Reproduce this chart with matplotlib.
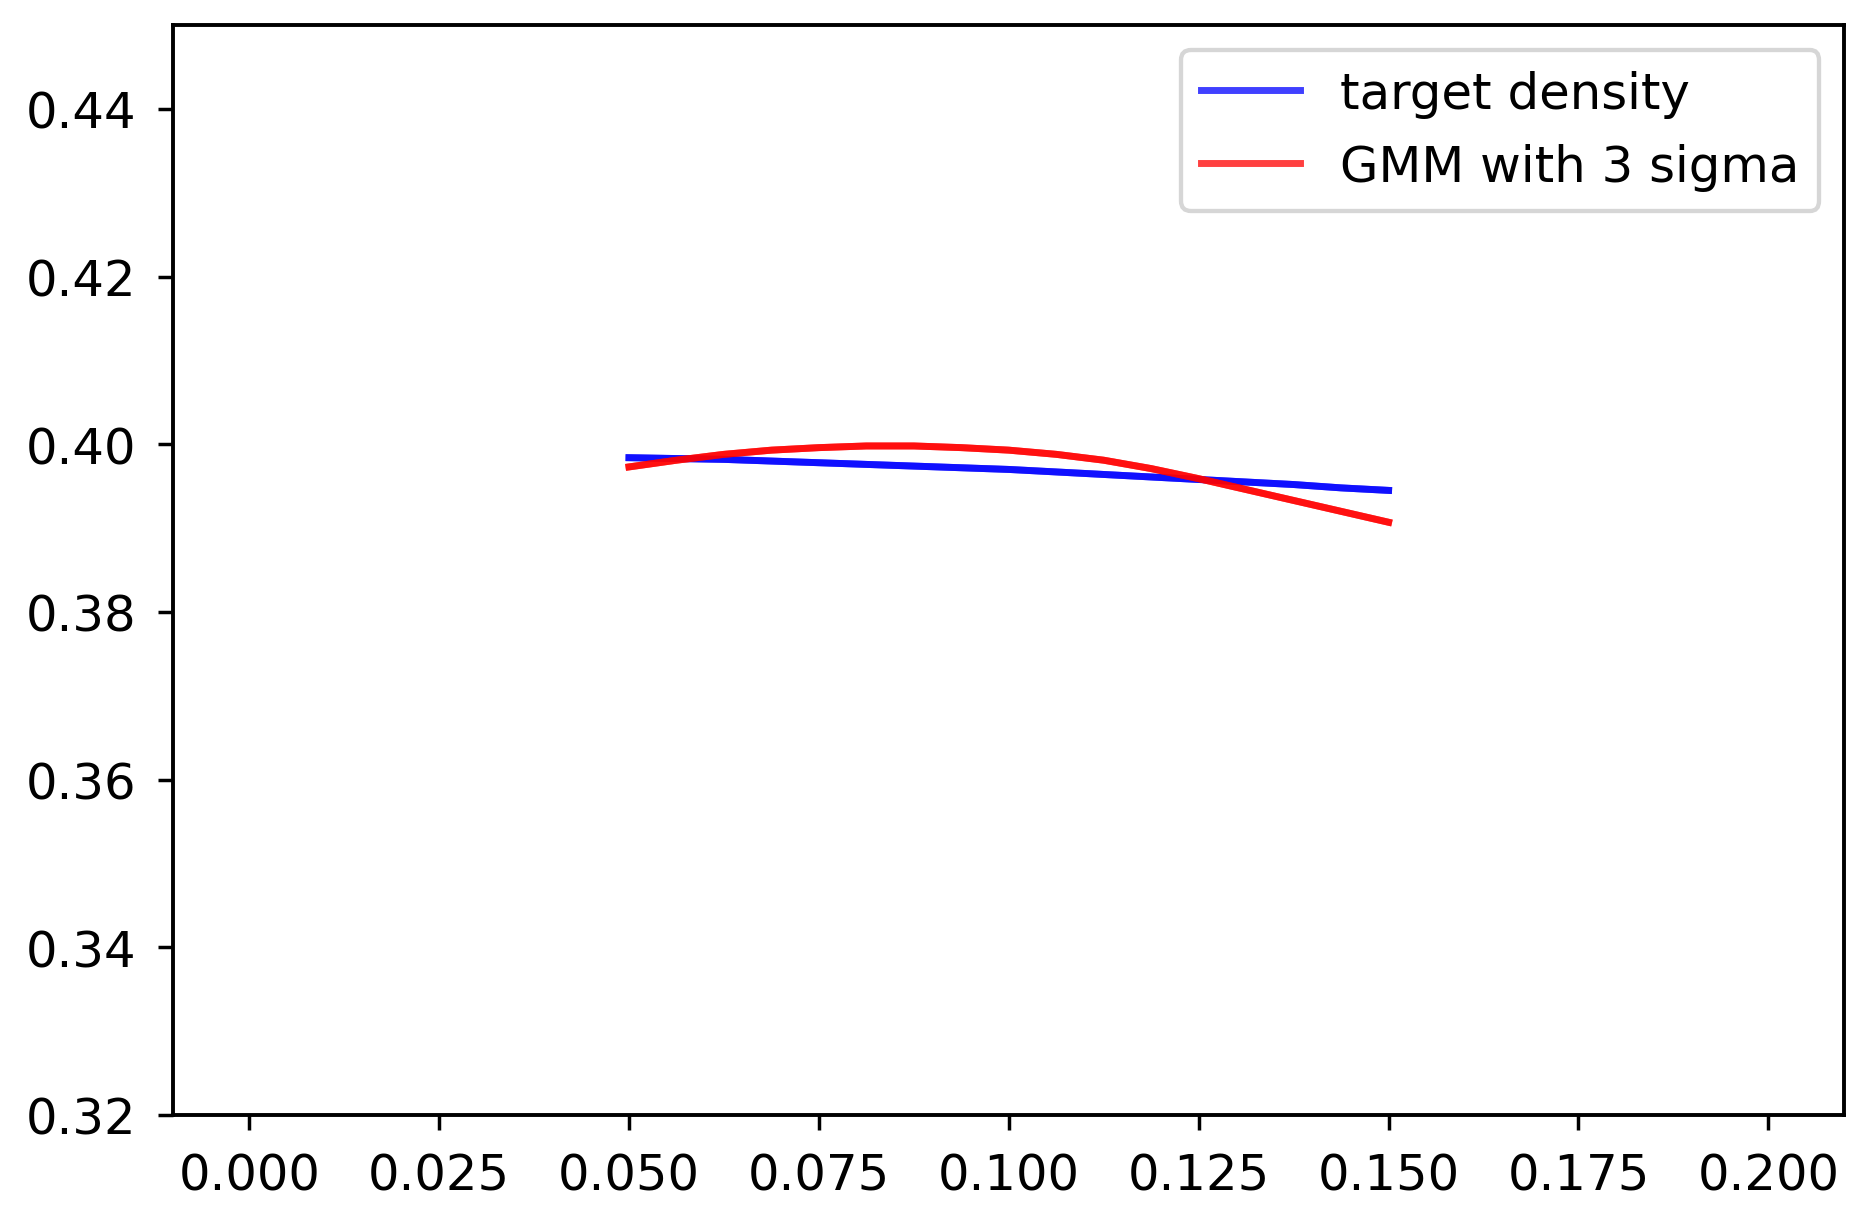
import matplotlib
matplotlib.use('Agg')
import matplotlib.pyplot as plt
from matplotlib.ticker import FormatStrFormatter

# values
x = [0.05, 0.05625, 0.0625, 0.06875, 0.075, 0.08125, 0.0875, 0.09375, 0.1,
     0.10625, 0.1125, 0.11875, 0.125, 0.13125, 0.1375, 0.14375, 0.15]
target = [0.3984, 0.3983, 0.3982, 0.3980, 0.3978, 0.3976, 0.3974, 0.3972, 0.3970,
          0.3967, 0.3964, 0.3961, 0.3958, 0.3955, 0.3952, 0.3948, 0.3945]
gmm = [0.3973, 0.3981, 0.3988, 0.3993, 0.3996, 0.3998, 0.3998, 0.3996, 0.3993,
       0.3988, 0.3981, 0.3971, 0.3959, 0.3946, 0.3933, 0.3920, 0.3907]

plt.rcParams['font.size'] = 11.5

fig, ax = plt.subplots(figsize=(6.0, 3.897), dpi=311.5)
fig.subplots_adjust(left=0.0927, right=0.9868, bottom=0.0807, top=0.9786)

# each curve drawn twice with alpha, like the original loop did
ax.plot(x, target, color='b', alpha=0.75, lw=1.6, label='target density')
ax.plot(x, target, color='b', alpha=0.75, lw=1.6)
ax.plot(x, gmm, color='r', alpha=0.75, lw=1.6, label='GMM with 3 sigma')
ax.plot(x, gmm, color='r', alpha=0.75, lw=1.6)

ax.set_xlim(-0.01, 0.21)
ax.set_ylim(0.32, 0.45)
ax.set_xticks([0.0, 0.025, 0.05, 0.075, 0.1, 0.125, 0.15, 0.175, 0.2])
ax.set_yticks([0.32, 0.34, 0.36, 0.38, 0.40, 0.42, 0.44])
ax.xaxis.set_major_formatter(FormatStrFormatter('%.3f'))
ax.yaxis.set_major_formatter(FormatStrFormatter('%.2f'))
ax.tick_params(pad=5)
for s in ax.spines.values():
    s.set_linewidth(0.9)

ax.legend(loc='upper right')

fig.savefig('out.png', dpi=311.5)
